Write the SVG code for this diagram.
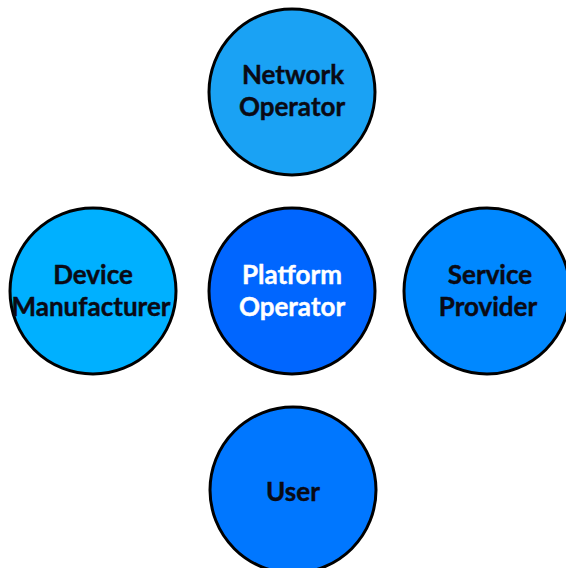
<svg xmlns="http://www.w3.org/2000/svg" width="566" height="568" viewBox="0 0 566 568">
<style>
.n{stroke:#000;stroke-width:3}
.t{font-family:Lato,"Open Sans","Liberation Sans",sans-serif;font-weight:bold;font-size:26px;text-anchor:middle;fill:#0a0a14;stroke:#0a0a14;stroke-width:0.4}
.w{fill:#fff;stroke:#fff}
</style>
<rect width="566" height="568" fill="#fff"/>
<g id="connectors"></g>
<g id="network-operator">
<circle class="n" cx="292" cy="92" r="83" fill="#1aa2f4"/>
<text class="t" x="293" y="84">Network</text>
<text class="t" x="292" y="116">Operator</text>
</g>
<g id="device-manufacturer">
<circle class="n" cx="93" cy="291" r="83" fill="#00b0ff"/>
<text class="t" x="93" y="284">Device</text>
<text class="t" x="91" y="316">Manufacturer</text>
</g>
<g id="platform-operator">
<circle class="n" cx="292" cy="291" r="83" fill="#0066ff"/>
<text class="t w" x="292" y="284">Platform</text>
<text class="t w" x="292" y="316">Operator</text>
</g>
<g id="service-provider">
<circle class="n" cx="487" cy="291" r="83" fill="#0088ff"/>
<text class="t" x="490" y="284">Service</text>
<text class="t" x="488" y="316">Provider</text>
</g>
<g id="user">
<circle class="n" cx="293" cy="490" r="83" fill="#0077ff"/>
<text class="t" x="293" y="501">User</text>
</g>
</svg>
